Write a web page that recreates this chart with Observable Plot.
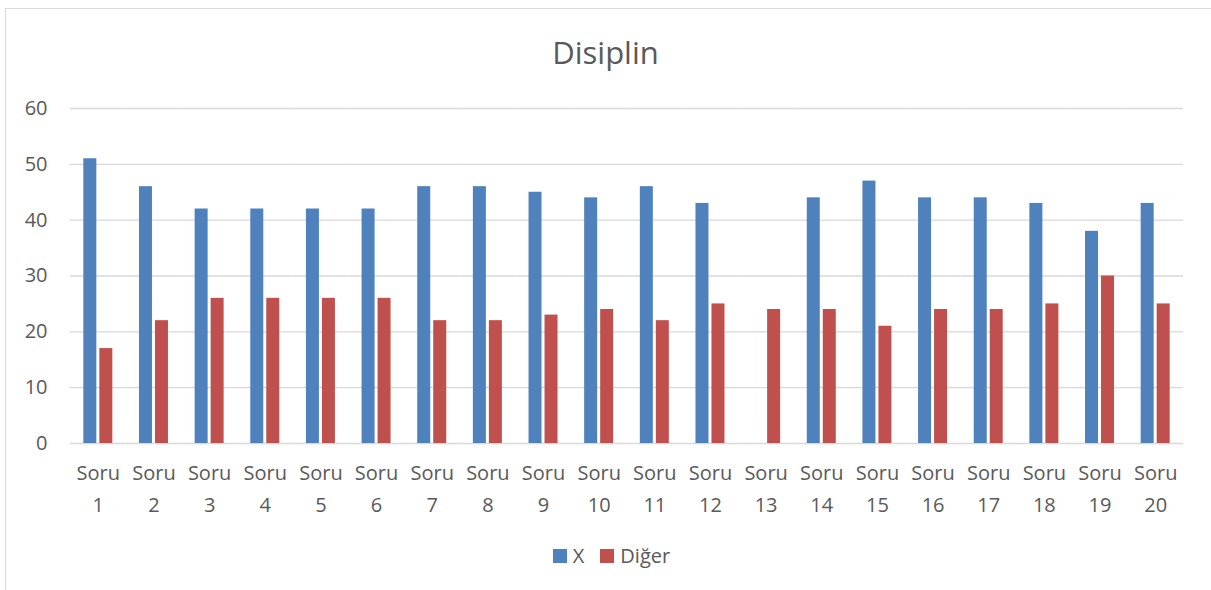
<!DOCTYPE html>
<html>
<head>
<meta charset="utf-8">
<script src="https://cdn.jsdelivr.net/npm/d3@7"></script>
<script src="https://cdn.jsdelivr.net/npm/@observablehq/plot@0.6"></script>
<style>
  html, body { margin: 0; padding: 0; background: #fff; }
  body { width: 1211px; height: 590px; position: relative; overflow: hidden; font-family: "Open Sans", "Liberation Sans", sans-serif; color: #595959; }
  #frame { position: absolute; left: 5px; top: 8px; width: 1220px; height: 600px; border: 1.5px solid #d9d9d9; box-sizing: border-box; }
  #title { position: absolute; left: 0; width: 1211px; top: 31px; text-align: center; font-size: 31px; color: #595959; }
  #chart { position: absolute; left: 0; top: 0; }
  #legend { position: absolute; left: 6px; width: 1211px; top: 542px; display: flex; justify-content: center; align-items: center; font-size: 20px; color: #595959; }
  .sw { display: inline-block; width: 14px; height: 14px; margin-right: 6px; }
  .item { display: flex; align-items: center; margin: 0 8px; }
</style>
</head>
<body>
<div id="frame"></div>
<div id="chart"></div>
<div id="title">Disiplin</div>
<div id="legend"></div>
<script>
const categories = ["1","2","3","4","5","6","7","8","9","10","11","12","13","14","15","16","17","18","19","20"];
const seriesNames = ["X", "Diğer"];
const seriesColors = ["#4f81bd", "#c0504d"];
const valuesX =     [51,46,42,42,42,42,46,46,45,44,46,43,0,44,47,44,44,43,38,43];
const valuesDiger = [17,22,26,26,26,26,22,22,23,24,22,25,24,24,21,24,24,25,30,25];
const yTicks = [0,10,20,30,40,50,60];

const data = [];
categories.forEach((c, i) => {
  data.push({soru: c, series: seriesNames[0], value: valuesX[i]});
  data.push({soru: c, series: seriesNames[1], value: valuesDiger[i]});
});

const chart = Plot.plot({
  width: 1211,
  height: 530,
  marginLeft: 70,
  marginRight: 28,
  marginTop: 108,
  marginBottom: 87,
  style: {fontFamily: "'Open Sans', 'Liberation Sans', sans-serif", color: "#595959", background: "transparent"},
  fx: {domain: categories, padding: 0, round: false, axis: null},
  x: {domain: seriesNames, paddingInner: 0.1875, paddingOuter: 0.833, round: false, axis: null},
  y: {domain: [0, 60], axis: null},
  color: {domain: seriesNames, range: seriesColors},
  marks: [
    Plot.gridY(yTicks, {stroke: "#d9d9d9", strokeOpacity: 1, strokeWidth: 1.4}),
    Plot.barY(data, {fx: "soru", x: "series", y: "value", fill: "series"}),
    Plot.axisY(yTicks, {tickSize: 0, tickPadding: 23, fontSize: 20, fill: "#595959", label: null, facetAnchor: "left"}),
    Plot.axisFx({anchor: "bottom", tickSize: 0, tickPadding: 14, fontSize: 20, lineHeight: 1.6, fill: "#595959", label: null, tickFormat: d => "Soru\n" + d})
  ]
});
document.getElementById("chart").appendChild(chart);

const legend = document.getElementById("legend");
seriesNames.forEach((n, i) => {
  const item = document.createElement("div");
  item.className = "item";
  const sw = document.createElement("span");
  sw.className = "sw";
  sw.style.background = seriesColors[i];
  item.appendChild(sw);
  item.appendChild(document.createTextNode(n));
  legend.appendChild(item);
});
</script>
</body>
</html>
